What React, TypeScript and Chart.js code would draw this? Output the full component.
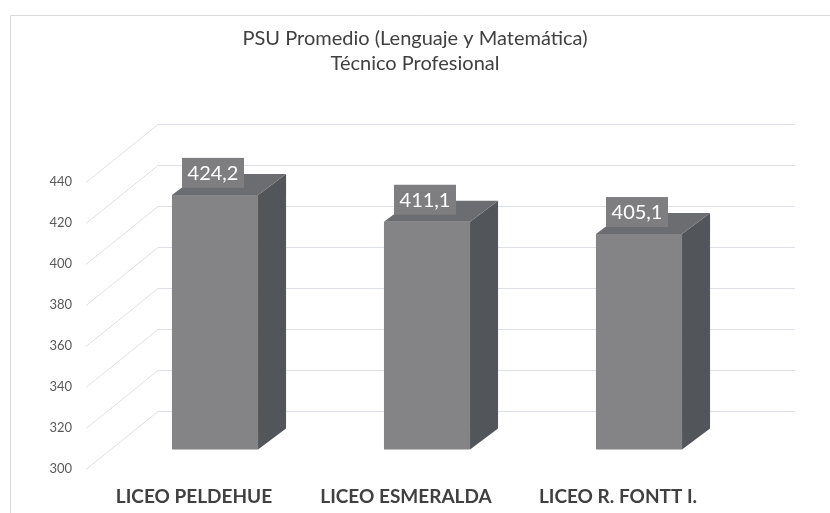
import React, { useEffect, useRef } from "react";
import { Chart, registerables } from "chart.js";

Chart.register(...registerables);

const categories = ["LICEO PELDEHUE", "LICEO ESMERALDA", "LICEO R. FONTT I."];
const values = [424.2, 411.1, 405.1];
const titleLines = ["PSU Promedio (Lenguaje y Matemática)", "Técnico Profesional"];
const yMin = 300;
const yMax = 440;
const yStep = 20;

const FONT = "Lato, 'Open Sans', sans-serif";
const DX = 28;
const DY = -21;

const fmt = (v: number) => v.toFixed(1).replace(".", ",");

const frame3d = {
  id: "frame3d",
  beforeDraw(chart: any) {
    const { ctx } = chart;
    ctx.save();
    ctx.strokeStyle = "#d9d9d9";
    ctx.lineWidth = 1;
    ctx.beginPath();
    ctx.moveTo(10.5, chart.height);
    ctx.lineTo(10.5, 15.5);
    ctx.lineTo(chart.width, 15.5);
    ctx.stroke();
    ctx.restore();
  },
  beforeDatasetsDraw(chart: any) {
    const { ctx, chartArea } = chart;
    const y = chart.scales.y;
    ctx.save();
    ctx.strokeStyle = "#dde1e6";
    ctx.lineWidth = 1;
    y.ticks.forEach((t: any) => {
      const py = Math.round(y.getPixelForValue(t.value));
      ctx.beginPath();
      ctx.moveTo(chartArea.left - 23, py + 19.5);
      ctx.lineTo(chartArea.left + 49, py - 38.5);
      ctx.lineTo(chartArea.right + 50, py - 38.5);
      ctx.stroke();
    });
    // tick labels on the left wall plane
    ctx.fillStyle = "#595959";
    ctx.font = `13px ${FONT}`;
    ctx.textAlign = "right";
    ctx.textBaseline = "middle";
    y.ticks.forEach((t: any) => {
      const py = y.getPixelForValue(t.value);
      ctx.fillText(String(t.value), chartArea.left - 37, py + 19);
    });
    ctx.restore();
  },
  afterDatasetsDraw(chart: any) {
    const { ctx, chartArea } = chart;
    const meta = chart.getDatasetMeta(0);
    const ds = chart.data.datasets[0];
    const baseY = Math.min(chart.scales.y.getPixelForValue(yMin), chartArea.bottom);
    meta.data.forEach((bar: any, i: number) => {
      const { x, y, width } = bar.getProps(["x", "y", "width"], true);
      const l = x - width / 2;
      const r = x + width / 2;
      ctx.save();
      // side face
      ctx.fillStyle = "#525559";
      ctx.beginPath();
      ctx.moveTo(r, y);
      ctx.lineTo(r + DX, y + DY);
      ctx.lineTo(r + DX, baseY + DY);
      ctx.lineTo(r, baseY);
      ctx.closePath();
      ctx.fill();
      // top face
      ctx.fillStyle = "#6c6d70";
      ctx.beginPath();
      ctx.moveTo(l, y);
      ctx.lineTo(l + DX, y + DY);
      ctx.lineTo(r + DX, y + DY);
      ctx.lineTo(r, y);
      ctx.closePath();
      ctx.fill();
      // data label box
      const cx = x - 2;
      const cy = y - 22;
      ctx.fillStyle = "#7e7e80";
      ctx.fillRect(cx - 31, cy - 15, 62, 30);
      ctx.fillStyle = "#ffffff";
      ctx.font = `20px ${FONT}`;
      ctx.textAlign = "center";
      ctx.textBaseline = "middle";
      ctx.fillText(fmt(ds.data[i] as number), cx, cy + 1);
      ctx.restore();
    });
  },
};

export default function App() {
  const ref = useRef<HTMLCanvasElement>(null);
  useEffect(() => {
    if (!ref.current) return;
    const chart = new Chart(ref.current, {
      type: "bar",
      data: {
        labels: categories,
        datasets: [
          {
            data: values,
            backgroundColor: "#848486",
            borderWidth: 0,
            barPercentage: 0.406,
            categoryPercentage: 1,
          },
        ],
      },
      options: {
        responsive: false,
        animation: false,
        layout: { padding: 0 },
        plugins: {
          legend: { display: false },
          tooltip: { enabled: false },
          title: {
            display: true,
            text: titleLines,
            color: "#404040",
            font: { family: FONT, size: 20, weight: "normal", lineHeight: 1.25 },
            padding: { top: 26, bottom: 86.5 },
          },
        },
        scales: {
          x: {
            grid: { display: false, drawTicks: false },
            border: { display: false },
            ticks: {
              color: "#404040",
              font: { family: FONT, size: 19, weight: "bold" },
              padding: 36,
              labelOffset: -21,
              maxRotation: 0,
              autoSkip: false,
            },
            afterFit: (s: any) => {
              s.height = 63.5;
            },
          },
          y: {
            min: yMin,
            max: yMax,
            grid: { display: false, drawTicks: false },
            border: { display: false },
            ticks: {
              stepSize: yStep,
              display: false,
            },
            afterFit: (s: any) => {
              s.width = 109;
            },
          },
          yRight: {
            position: "right",
            display: true,
            grid: { display: false, drawTicks: false },
            border: { display: false },
            ticks: { display: false },
            afterFit: (s: any) => {
              s.width = 85;
            },
          },
        },
      },
      plugins: [frame3d],
    });
    return () => chart.destroy();
  }, []);
  return (
    <div style={{ position: "fixed", left: 0, top: 0, width: 830, height: 513, background: "#fff" }}>
      <canvas ref={ref} width={830} height={513} />
    </div>
  );
}
